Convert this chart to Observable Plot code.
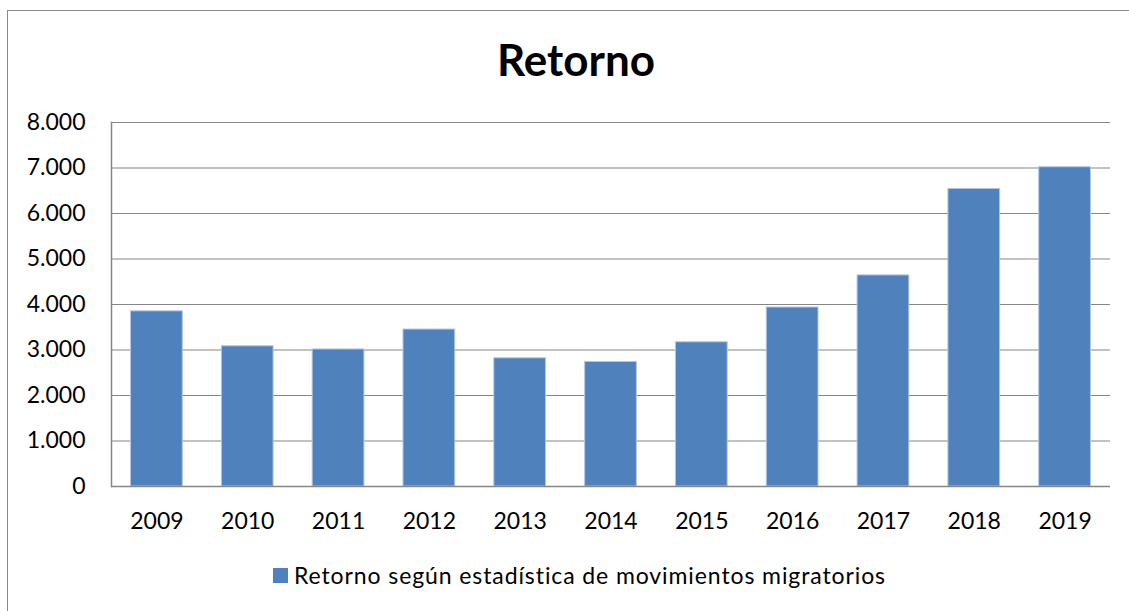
<!DOCTYPE html>
<html>
<head>
<meta charset="utf-8">
<script src="https://cdn.jsdelivr.net/npm/d3@7"></script>
<script src="https://cdn.jsdelivr.net/npm/@observablehq/plot@0.6"></script>
<style>
  html, body { margin: 0; padding: 0; background: #fff; }
  #wrap { position: relative; width: 1129px; height: 611px; overflow: hidden; font-family: Lato, "Open Sans", sans-serif; }
  #border { position: absolute; left: 7px; top: 10px; width: 1300px; height: 800px; border-left: 1.5px solid #8a8a8a; border-top: 1.5px solid #8a8a8a; }
  #title { position: absolute; left: 0; width: 1152px; top: 33px; text-align: center; font-size: 44px; font-weight: bold; line-height: 1.2; color: #000; }
  #chart { position: absolute; left: 0; top: 0; }
  #legend { position: absolute; left: 273px; top: 562px; display: flex; align-items: center; font-size: 23px; letter-spacing: 0.9px; color: #000; line-height: 1.2; }
  #legend .sw { width: 15px; height: 15px; background: #4F81BD; margin-right: 6px; }
</style>
</head>
<body>
<div id="wrap">
  <div id="border"></div>
  <div id="chart"></div>
  <div id="title"></div>
  <div id="legend"></div>
</div>
<script>
const chartTitle = "Retorno";
const seriesName = "Retorno según estadística de movimientos migratorios";
const years = ["2009","2010","2011","2012","2013","2014","2015","2016","2017","2018","2019"];
const values = [3850, 3082, 3012, 3450, 2818, 2738, 3170, 3934, 4640, 6540, 7017];
const yTicks = [0, 1000, 2000, 3000, 4000, 5000, 6000, 7000, 8000];
const barColor = "#4F81BD";

const data = years.map((y, i) => ({year: y, value: values[i]}));
const fmt = d3.formatLocale({decimal: ",", thousands: ".", grouping: [3], currency: ["", ""]}).format(",d");

const plot = Plot.plot({
  width: 1129,
  height: 611,
  marginLeft: 111,
  marginRight: 19,
  marginTop: 122,
  marginBottom: 125,
  style: {fontFamily: "Lato, 'Open Sans', sans-serif", fontSize: "23px", color: "#000", background: "transparent"},
  x: {domain: years, paddingInner: 0.43, paddingOuter: 0.215, round: false, label: null},
  y: {domain: [0, 8000], label: null},
  marks: [
    Plot.gridY(yTicks, {stroke: "#868686", strokeOpacity: 1, strokeWidth: 1.2}),
    Plot.barY(data, {x: "year", y: "value", fill: barColor, stroke: "#b4c8e2", strokeWidth: 1}),
    Plot.ruleY([0], {stroke: "#868686", strokeWidth: 1.5}),
    Plot.frame({anchor: "left", stroke: "#868686", strokeWidth: 1.5}),
    Plot.axisY(yTicks, {tickSize: 0, tickPadding: 26, tickFormat: fmt, label: null, fill: "#000"}),
    Plot.axisX({tickSize: 0, tickPadding: 26, label: null, fill: "#000"})
  ]
});
document.getElementById("chart").appendChild(plot);
document.getElementById("title").textContent = chartTitle;
const lg = document.getElementById("legend");
const sw = document.createElement("div"); sw.className = "sw";
const tx = document.createElement("span"); tx.textContent = seriesName;
lg.appendChild(sw); lg.appendChild(tx);
</script>
</body>
</html>
